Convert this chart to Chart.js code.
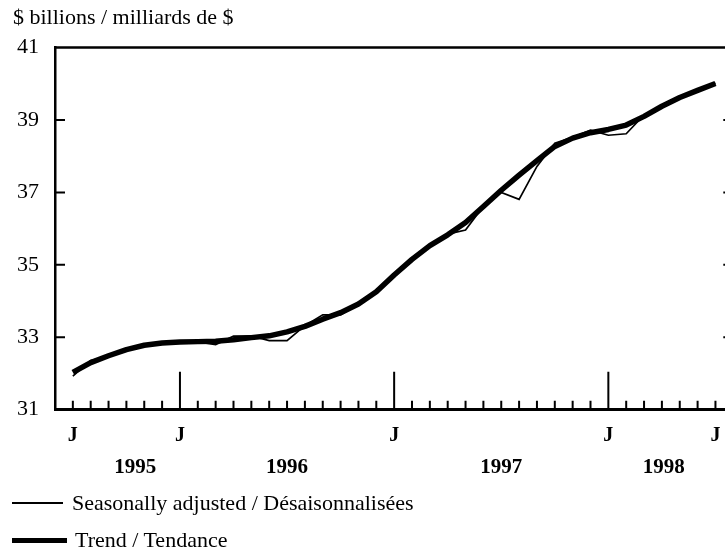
<!DOCTYPE html>
<html>
<head>
<meta charset="utf-8">
<script src="https://cdn.jsdelivr.net/npm/chart.js@4.4.1/dist/chart.umd.min.js"></script>
<style>
  html, body { margin: 0; padding: 0; background: #fff; overflow: hidden; }
  body { width: 725px; height: 552px; position: relative; font-family: 'Liberation Serif', 'Times New Roman', serif; color: #000; }
  #wrap { position: absolute; left: 0; top: 0; width: 745px; height: 552px; }
  .txt { position: absolute; font-size: 22px; line-height: 22px; white-space: nowrap; }
  .key { position: absolute; background: #000; }
</style>
</head>
<body>
<div id="wrap"><canvas id="chart" width="745" height="552"></canvas></div>
<div class="txt" style="left:13px; top:5.6px;">$ billions / milliards de $</div>
<div class="key" style="left:12px; top:502px; width:51px; height:2px;"></div>
<div class="txt" style="left:72px; top:492.3px;">Seasonally adjusted / Désaisonnalisées</div>
<div class="key" style="left:12px; top:537.5px; width:55px; height:5px;"></div>
<div class="txt" style="left:75px; top:529.4px;">Trend / Tendance</div>

<script>
// Months, July 1995 to July 1998
const months = [
    '1995-07', '1995-08', '1995-09', '1995-10', '1995-11', '1995-12',
    '1996-01', '1996-02', '1996-03', '1996-04', '1996-05', '1996-06',
    '1996-07', '1996-08', '1996-09', '1996-10', '1996-11', '1996-12',
    '1997-01', '1997-02', '1997-03', '1997-04', '1997-05', '1997-06',
    '1997-07', '1997-08', '1997-09', '1997-10', '1997-11', '1997-12',
    '1998-01', '1998-02', '1998-03', '1998-04', '1998-05', '1998-06',
    '1998-07'
];

// $ billions
const seasonallyAdjusted = [
    31.93, 32.36, 32.47, 32.67, 32.79, 32.84,
    32.88, 32.87, 32.80, 33.03, 33.04, 32.91,
    32.91, 33.32, 33.62, 33.62, 33.92, 34.22,
    34.74, 35.20, 35.55, 35.85, 35.96, 36.62,
    37.00, 36.81, 37.72, 38.36, 38.52, 38.72,
    38.58, 38.62, 39.14, 39.38, 39.63, 39.83,
    40.02
];

const trend = [
    32.03, 32.30, 32.49, 32.66, 32.78, 32.84,
    32.87, 32.88, 32.89, 32.93, 32.99, 33.04,
    33.15, 33.30, 33.50, 33.68, 33.92, 34.26,
    34.72, 35.15, 35.53, 35.83, 36.17, 36.61,
    37.06, 37.48, 37.88, 38.27, 38.50, 38.65,
    38.74, 38.86, 39.10, 39.38, 39.62, 39.82,
    40.01
];

// Axis labels
const yTicks = [31, 33, 35, 37, 39, 41];
const monthLabelAt = [0, 6, 18, 30, 36];   // "J" = July / January
const yearStartAt = [6, 18, 30];           // tall ticks at each January
const yearLabels = ['1995', '1996', '1997', '1998'];
const yearLabelAt = [3.5, 12, 24, 33.1];

Chart.defaults.font.family = "'Liberation Serif', 'Times New Roman', serif";
Chart.defaults.color = '#000';

// Box border and the short inward tick marks
const frame = {
    id: 'frame',
    afterDraw(chart) {
        const { ctx, chartArea: a, scales: { x, y } } = chart;
        ctx.save();
        ctx.strokeStyle = '#000';
        ctx.lineWidth = 2.5;
        ctx.beginPath();
        ctx.moveTo(a.left, a.top);
        ctx.lineTo(a.right, a.top);
        ctx.lineTo(a.right, a.bottom);
        ctx.stroke();

        ctx.lineWidth = 2;
        ctx.beginPath();
        yTicks.slice(1, -1).forEach(v => {
            const py = y.getPixelForValue(v);
            ctx.moveTo(a.left, py);
            ctx.lineTo(a.left + 10, py);
            ctx.moveTo(a.right, py);
            ctx.lineTo(a.right - 10, py);
        });
        months.forEach((m, i) => {
            const px = x.getPixelForValue(i);
            const len = yearStartAt.includes(i) ? 38 : 9;
            ctx.moveTo(px, a.bottom);
            ctx.lineTo(px, a.bottom - len);
        });
        ctx.stroke();
        ctx.restore();
    }
};

const ctx = document.getElementById('chart').getContext('2d');
new Chart(ctx, {
    type: 'line',
    data: {
        datasets: [
            {
                label: 'Seasonally adjusted / Désaisonnalisées',
                data: seasonallyAdjusted.map((v, i) => ({ x: i, y: v })),
                borderColor: '#000',
                borderWidth: 1.7,
                pointRadius: 0,
                tension: 0
            },
            {
                label: 'Trend / Tendance',
                data: trend.map((v, i) => ({ x: i, y: v })),
                borderColor: '#000',
                borderWidth: 5.5,
                pointRadius: 0,
                tension: 0,
                borderJoinStyle: 'round'
            }
        ]
    },
    options: {
        responsive: false,
        animation: false,
        devicePixelRatio: 1,
        layout: { padding: { left: 0, top: 47.6, right: 11.7, bottom: 67.3 } },
        plugins: {
            legend: { display: false },
            tooltip: { enabled: false }
        },
        scales: {
            x: {
                type: 'linear',
                min: -1,
                max: 37,
                afterBuildTicks: s => { s.ticks = monthLabelAt.map(v => ({ value: v })); },
                afterFit: s => { s.height = 40; },
                ticks: {
                    autoSkip: false,
                    maxRotation: 0,
                    padding: 14,
                    font: { size: 20, weight: 'bold' },
                    callback: () => 'J'
                },
                grid: { display: false, drawTicks: false },
                border: { display: true, color: '#000', width: 3 }
            },
            x2: {
                type: 'linear',
                position: 'bottom',
                min: -1,
                max: 37,
                afterBuildTicks: s => { s.ticks = yearLabelAt.map(v => ({ value: v })); },
                afterFit: s => { s.height = 35; },
                ticks: {
                    autoSkip: false,
                    maxRotation: 0,
                    padding: 5,
                    font: { size: 21, weight: 'bold' },
                    callback: (v, i) => yearLabels[i]
                },
                grid: { display: false, drawTicks: false },
                border: { display: false }
            },
            y: {
                min: 31,
                max: 41,
                afterBuildTicks: s => { s.ticks = yTicks.map(v => ({ value: v })); },
                afterFit: s => { s.width = 55; },
                ticks: {
                    padding: 16,
                    font: { size: 22 }
                },
                grid: { display: false, drawTicks: false },
                border: { display: true, color: '#000', width: 2.5 }
            }
        }
    },
    plugins: [frame]
});
</script>
</body>
</html>
